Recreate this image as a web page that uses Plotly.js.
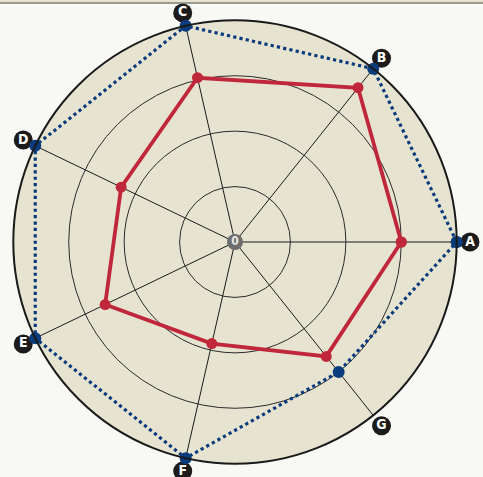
<!DOCTYPE html>
<html>
<head>
<meta charset="utf-8">
<script src="https://cdn.plot.ly/plotly-3.0.1.min.js"></script>
<style>html,body{margin:0;padding:0;background:#f8f8f5;}#chart{width:483px;height:477px;}</style>
</head>
<body>
<div id="chart"></div>
<script>
var categories = ['A', 'B', 'C', 'D', 'E', 'F', 'G'];
var maxValues = [100, 100, 100, 100, 100, 100, 75];
var actualValues = [75, 89, 76, 57, 65, 47, 66];
var centerLabel = '0';

function closeLoop(arr) { return arr.concat([arr[0]]); }

// geometry (pixels)
var W = 483, H = 477;
var cx = 235, cyFromBottom = 235;
var labelRange = 106;            // radial range of the label layer
var Rlab = 235;                  // pixel radius of label layer
var Rmain = Rlab * 100 / labelRange;

var labelFont = {family: 'Liberation Sans Narrow, DejaVu Sans Condensed, sans-serif', size: 14, color: '#ffffff', weight: 'bold'};

var traces = [
  {
    type: 'scatterpolar',
    subplot: 'polar',
    r: categories.map(function () { return labelRange; }),
    theta: categories,
    mode: 'markers+text',
    text: categories,
    textposition: 'middle center',
    textfont: labelFont,
    marker: {color: '#1c1a1a', size: 19},
    cliponaxis: false,
    hoverinfo: 'skip'
  },
  {
    type: 'scatterpolar',
    subplot: 'polar2',
    r: closeLoop(maxValues),
    theta: closeLoop(categories),
    mode: 'lines+markers',
    line: {color: '#0a3b7c', width: 3.2, dash: 'dot'},
    marker: {color: '#0a3b7c', size: 12},
    cliponaxis: false,
    hoverinfo: 'skip'
  },
  {
    type: 'scatterpolar',
    subplot: 'polar2',
    r: closeLoop(actualValues),
    theta: closeLoop(categories),
    mode: 'lines+markers',
    line: {color: '#c1273a', width: 3.8},
    marker: {color: '#c1273a', size: 11},
    cliponaxis: false,
    hoverinfo: 'skip'
  },
  {
    type: 'scatterpolar',
    subplot: 'polar2',
    r: [0],
    theta: [categories[0]],
    mode: 'markers+text',
    text: [centerLabel],
    textposition: 'middle center',
    textfont: {family: 'Liberation Sans Narrow, DejaVu Sans Condensed, sans-serif', size: 12, color: '#e8e8e8', weight: 'bold'},
    marker: {color: '#6e6e6e', size: 16},
    cliponaxis: false,
    hoverinfo: 'skip'
  }
];

var angCommon = {
  type: 'category',
  categoryarray: categories,
  rotation: 0,
  direction: 'counterclockwise',
  showticklabels: false,
  ticks: ''
};

var layout = {
  width: W,
  height: H,
  margin: {l: 0, r: 0, t: 0, b: 0},
  paper_bgcolor: '#f8f8f5',
  showlegend: false,
  polar: {
    domain: {x: [(cx - Rlab) / W, (cx + Rlab) / W], y: [(cyFromBottom - Rlab) / H, (cyFromBottom + Rlab) / H]},
    bgcolor: 'rgba(0,0,0,0)',
    radialaxis: {range: [0, labelRange], visible: false, showgrid: false, showline: false, showticklabels: false, ticks: ''},
    angularaxis: Object.assign({}, angCommon, {showline: false, showgrid: false})
  },
  polar2: {
    domain: {x: [(cx - Rmain) / W, (cx + Rmain) / W], y: [(cyFromBottom - Rmain) / H, (cyFromBottom + Rmain) / H]},
    bgcolor: '#e6e4d1',
    radialaxis: {
      range: [0, 100],
      tickvals: [25, 50, 75],
      showticklabels: false,
      ticks: '',
      showline: false,
      gridcolor: '#2a2a2a',
      gridwidth: 1
    },
    angularaxis: Object.assign({}, angCommon, {
      showline: true,
      linecolor: '#1a1a1a',
      linewidth: 2,
      gridcolor: '#1a1a1a',
      gridwidth: 1
    })
  },
  shapes: [
    {type: 'rect', xref: 'paper', yref: 'paper', x0: 0, x1: 1, y0: 1 - 2 / H, y1: 1, fillcolor: '#e6e4d1', line: {width: 0}},
    {type: 'line', xref: 'paper', yref: 'paper', x0: 0, x1: 1, y0: 1 - 3 / H, y1: 1 - 3 / H, line: {color: '#3a3a2a', width: 1.2}}
  ]
};

Plotly.newPlot('chart', traces, layout, {displayModeBar: false, staticPlot: true});
</script>
</body>
</html>
